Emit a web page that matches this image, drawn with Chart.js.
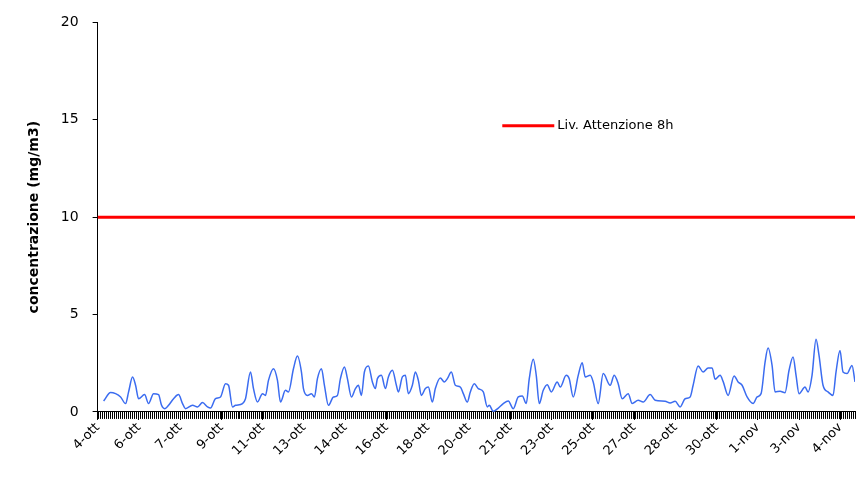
<!DOCTYPE html>
<html><head><meta charset="utf-8">
<script src="https://cdn.jsdelivr.net/npm/chart.js@4/dist/chart.umd.min.js"></script>
<style>html,body{margin:0;padding:0;background:#fff}#w{width:856px;height:482px}</style>
</head><body><div id="w"><canvas id="c"></canvas></div>
<script>
const tickLabels = ["4-ott","6-ott","7-ott","9-ott","11-ott","13-ott","14-ott","16-ott","18-ott","20-ott","21-ott","23-ott","25-ott","27-ott","28-ott","30-ott","1-nov","3-nov","4-nov"];
const hours = [6,13,18,23,28,31,35,38,41,47,51,56,61,64,67,71,76,81,85,88,95,100,105,110,113,118,123,128,131,135,138,145,148,153,156,160,165,168,171,176,180,183,188,191,196,200,204,206,210,214,217,220,224,227,231,236,240,243,247,250,254,258,261,264,267,271,275,278,280,284,288,291,295,299,301,305,308,311,315,318,321,324,328,331,335,338,343,347,350,354,358,363,366,370,373,377,381,386,390,392,396,401,406,411,416,421,425,429,432,436,439,442,446,450,454,460,463,469,472,476,481,485,488,493,496,501,506,513,517,521,525,531,535,541,546,553,558,568,573,578,583,588,593,596,601,606,611,615,618,623,626,631,637,641,645,650,656,660,664,668,671,675,678,683,688,692,696,699,702,708,711,715,719,722,726,731,736,739,743,746,750,755,758];
const conc = [0.56,1.0,0.94,0.77,0.43,1.03,1.79,1.37,0.68,0.89,0.43,0.94,0.89,0.34,0.17,0.34,0.68,0.89,0.43,0.17,0.34,0.26,0.48,0.26,0.2,0.68,0.77,1.45,1.37,0.26,0.34,0.43,0.68,2.05,1.2,0.51,0.94,0.85,1.62,2.22,1.62,0.51,1.11,1.03,2.22,2.87,2.05,1.2,0.85,0.94,0.77,1.71,2.22,1.37,0.34,0.77,0.85,1.71,2.31,1.71,0.77,1.2,1.37,0.85,2.05,2.36,1.54,1.2,1.71,1.88,1.2,1.8,2.14,1.37,1.03,1.8,1.88,0.94,1.37,2.05,1.62,0.85,1.2,1.28,0.51,1.2,1.74,1.54,1.71,2.05,1.37,1.28,0.94,0.51,1.03,1.45,1.2,1.03,0.26,0.34,0.03,0.2,0.43,0.56,0.17,0.77,0.82,0.43,1.71,2.7,1.88,0.43,1.11,1.4,1.03,1.54,1.28,1.88,1.71,0.77,1.88,2.53,1.8,1.88,1.54,0.43,1.97,1.37,1.88,1.45,0.68,0.94,0.43,0.6,0.51,0.89,0.6,0.55,0.46,0.55,0.26,0.68,0.77,1.37,2.36,2.05,2.26,2.26,1.68,1.88,1.57,0.85,1.85,1.54,1.37,0.77,0.43,0.77,0.94,2.56,3.28,2.39,1.03,1.06,0.99,2.14,2.82,1.88,0.94,1.28,1.03,1.88,3.73,2.9,1.37,1.03,0.85,2.05,3.16,2.05,1.97,2.39,1.54];
const limitValue = 10;
const limitLabel = "Liv. Attenzione 8h";
const xMax = 758, step = 41.3;

const F = "'DejaVu Sans', sans-serif";
const extras = {
  id:'extras',
  afterDraw(ch){
    const c=ch.ctx, x=ch.scales.x, y=ch.scales.y, a=ch.chartArea;
    c.save();
    c.strokeStyle='#000'; c.lineWidth=1;
    c.beginPath();
    for(let h=0;h<=xMax;h+=2){const px=Math.round(x.getPixelForValue(h))+0.5;c.moveTo(px,a.bottom);c.lineTo(px,a.bottom+7);}
    c.stroke();
    const lx=x.getPixelForValue(405), ly=y.getPixelForValue(14.7);
    c.strokeStyle='#ff0000'; c.lineWidth=3;
    c.beginPath(); c.moveTo(lx,ly); c.lineTo(lx+52,ly); c.stroke();
    c.fillStyle='#000'; c.font='13px '+F; c.textBaseline='middle';
    c.fillText(limitLabel,lx+55,ly);
    c.restore();
  }
};
new Chart(document.getElementById('c'),{
  type:'scatter',
  data:{datasets:[
    {data:hours.map((h,i)=>({x:h,y:conc[i]})),showLine:true,borderColor:'#3b6cf0',borderWidth:1.5,pointRadius:0,tension:0.3,cubicInterpolationMode:'monotone'},
    {data:[{x:0,y:limitValue},{x:xMax,y:limitValue}],showLine:true,borderColor:'#ff0000',borderWidth:3,pointRadius:0}
  ]},
  options:{
    responsive:true,maintainAspectRatio:false,animation:false,
    layout:{padding:{top:15,right:1,left:22,bottom:23}},
    plugins:{legend:{display:false},tooltip:{enabled:false}},
    scales:{
      x:{type:'linear',min:0,max:xMax,
        afterBuildTicks(s){s.ticks=tickLabels.map((l,i)=>({value:i*step}));},
        grid:{display:true,drawOnChartArea:false,color:'#000',tickLength:8},
        border:{color:'#000'},
        ticks:{autoSkip:false,maxRotation:45,minRotation:45,color:'#000',font:{family:F,size:13},padding:0,
          callback:(v,i)=>tickLabels[i]}
      },
      y:{min:0,max:20,
        grid:{drawOnChartArea:false,color:'#000',tickLength:5},
        border:{color:'#000'},
        ticks:{stepSize:5,color:'#000',font:{family:F,size:14},padding:14},
        title:{display:true,text:'concentrazione (mg/m3)',color:'#000',font:{family:F,size:14,weight:'bold'}}
      }
    }
  },
  plugins:[extras]
});
</script></body></html>
